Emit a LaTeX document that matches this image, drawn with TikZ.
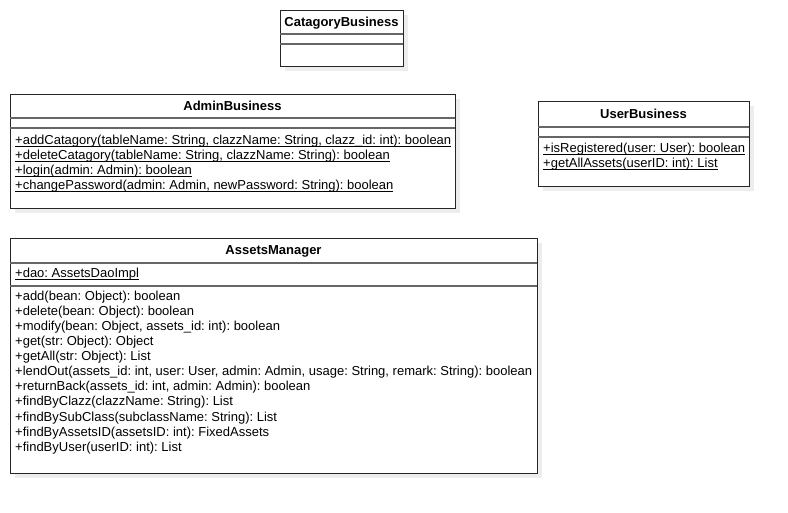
\documentclass[tikz,border=0pt]{standalone}
\usepackage{fontspec}
\setmainfont{Liberation Sans}
\usetikzlibrary{shadows}
\frenchspacing
\newcommand{\ulin}[1]{\setbox0\hbox{#1}\rlap{\usebox0}\rule[-1.6pt]{\wd0}{0.7pt}}

\begin{document}
\begin{tikzpicture}[x=1pt,y=-1pt]
\tikzstyle{every node}+=[inner sep=0pt, font=\fontsize{13}{15}\selectfont]
\tikzstyle{classbox}=[draw=black!85, fill=white, line width=0.9pt, anchor=north west,
  drop shadow={shadow xshift=5pt, shadow yshift=-5pt, fill=black!7, opacity=1}]
\tikzstyle{divider}=[draw=black!60, line width=1.3pt]
\tikzstyle{title}=[font=\fontsize{13}{15}\selectfont\bfseries, text height=12pt, text depth=2pt]
\tikzstyle{member}=[anchor=west, text height=12pt, text depth=2pt]
\useasboundingbox (0,0) rectangle (788,513);
% CatagoryBusiness
\node[classbox, minimum width=123pt, minimum height=56pt] (cat) at (280,10) {};
\node[title] (catT) at (341.5,22) {CatagoryBusiness};
\draw[divider] (280,34) -- (403,34);
\draw[divider] (280,44) -- (403,44);
% AdminBusiness
\node[classbox, minimum width=445pt, minimum height=114pt] (admin) at (10,94) {};
\node[title] (adminT) at (232.5,106) {AdminBusiness};
\draw[divider] (10,118) -- (455,118);
\draw[divider] (10,128) -- (455,128);
\node[member] (adminM1) at (15,140) {\ulin{+addCatagory(tableName: String, clazzName: String, clazz\_id: int): boolean}};
\node[member] (adminM2) at (15,155) {\ulin{+deleteCatagory(tableName: String, clazzName: String): boolean}};
\node[member] (adminM3) at (15,170) {\ulin{+login(admin: Admin): boolean}};
\node[member] (adminM4) at (15,185) {\ulin{+changePassword(admin: Admin, newPassword: String): boolean}};
% UserBusiness
\node[classbox, minimum width=211pt, minimum height=85pt] (user) at (538,101) {};
\node[title] (userT) at (643.5,114) {UserBusiness};
\draw[divider] (538,127) -- (749,127);
\draw[divider] (538,137) -- (749,137);
\node[member] (userM1) at (543,148) {\ulin{+isRegistered(user: User): boolean}};
\node[member] (userM2) at (543,163) {\ulin{+getAllAssets(userID: int): List}};
% AssetsManager
\node[classbox, minimum width=527pt, minimum height=235pt] (am) at (10,238) {};
\node[title] (amT) at (273.5,250) {AssetsManager};
\draw[divider] (10,263) -- (537,263);
\draw[divider] (10,286) -- (537,286);
\node[member] (amA1) at (15,273) {\ulin{+dao: AssetsDaoImpl}};
\foreach \m [count=\i] in {{+add(bean: Object): boolean},
  {+delete(bean: Object): boolean},
  {+modify(bean: Object, assets\_id: int): boolean},
  {+get(str: Object): Object},
  {+getAll(str: Object): List},
  {+lendOut(assets\_id: int, user: User, admin: Admin, usage: String, remark: String): boolean},
  {+returnBack(assets\_id: int, admin: Admin): boolean},
  {+findByClazz(clazzName: String): List},
  {+findBySubClass(subclassName: String): List},
  {+findByAssetsID(assetsID: int): FixedAssets},
  {+findByUser(userID: int): List}}
  \node[member] (amM\i) at (15,281+15*\i) {\m};
\end{tikzpicture}
\end{document}
